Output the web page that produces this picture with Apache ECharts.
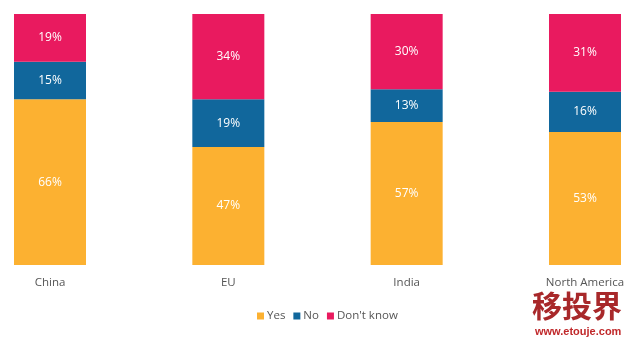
<!DOCTYPE html>
<html><head><meta charset="utf-8">
<script src="https://cdn.jsdelivr.net/npm/echarts@6/dist/echarts.min.js"></script>
<style>html,body{margin:0;padding:0;background:#fff}#c{width:640px;height:345px}</style>
</head><body><div id="c"></div>
<script>
const categories = ['China', 'EU', 'India', 'North America'];
const yesValues = [66, 47, 57, 53];
const noValues = [15, 19, 13, 16];
const dontKnowValues = [19, 34, 30, 31];

const font = '"Open Sans", "Noto Sans", sans-serif';
const chart = echarts.init(document.getElementById('c'));
const lbl = { show: true, color: '#fff', fontFamily: font, fontSize: 12, formatter: p => p.value + '%' };
chart.setOption({
  animation: false,
  grid: { left: 50, right: 55, top: 14, bottom: 80 },
  legend: {
    top: 305, left: 252, itemWidth: 7, itemHeight: 7, itemGap: 8, icon: 'rect',
    textStyle: { color: '#555', fontFamily: font, fontSize: 11.5, padding: [0, 0, 0, -2] },
    data: ['Yes', 'No', "Don't know"]
  },
  xAxis: {
    type: 'category', data: categories, boundaryGap: false,
    axisLine: { show: false }, axisTick: { show: false },
    axisLabel: { color: '#555', fontFamily: font, fontSize: 11.5, margin: 12 }
  },
  yAxis: { type: 'value', min: 0, max: 100, show: false },
  series: [
    { name: 'Yes', type: 'bar', stack: 't', data: yesValues, barWidth: 72, clip: false, itemStyle: { color: '#FCB131' }, label: lbl },
    { name: 'No', type: 'bar', stack: 't', data: noValues, barWidth: 72, clip: false, itemStyle: { color: '#11679C' }, label: lbl },
    { name: "Don't know", type: 'bar', stack: 't', data: dontKnowValues, barWidth: 72, clip: false, itemStyle: { color: '#E91A5F' }, label: lbl }
  ],
  graphic: [
    { type: 'text', left: 532, top: 291, style: { text: '移投界', font: 'bold 30px "Noto Sans CJK SC"', fill: '#a8282a', shadowBlur: 4, shadowColor: 'rgba(0,0,0,0.5)', shadowOffsetX: 1, shadowOffsetY: 2 } },
    { type: 'text', left: 535, top: 326, style: { text: 'www.etouje.com', font: 'bold 11px "Liberation Sans", Arial', fill: '#c0282a' } }
  ]
});
</script></body></html>
